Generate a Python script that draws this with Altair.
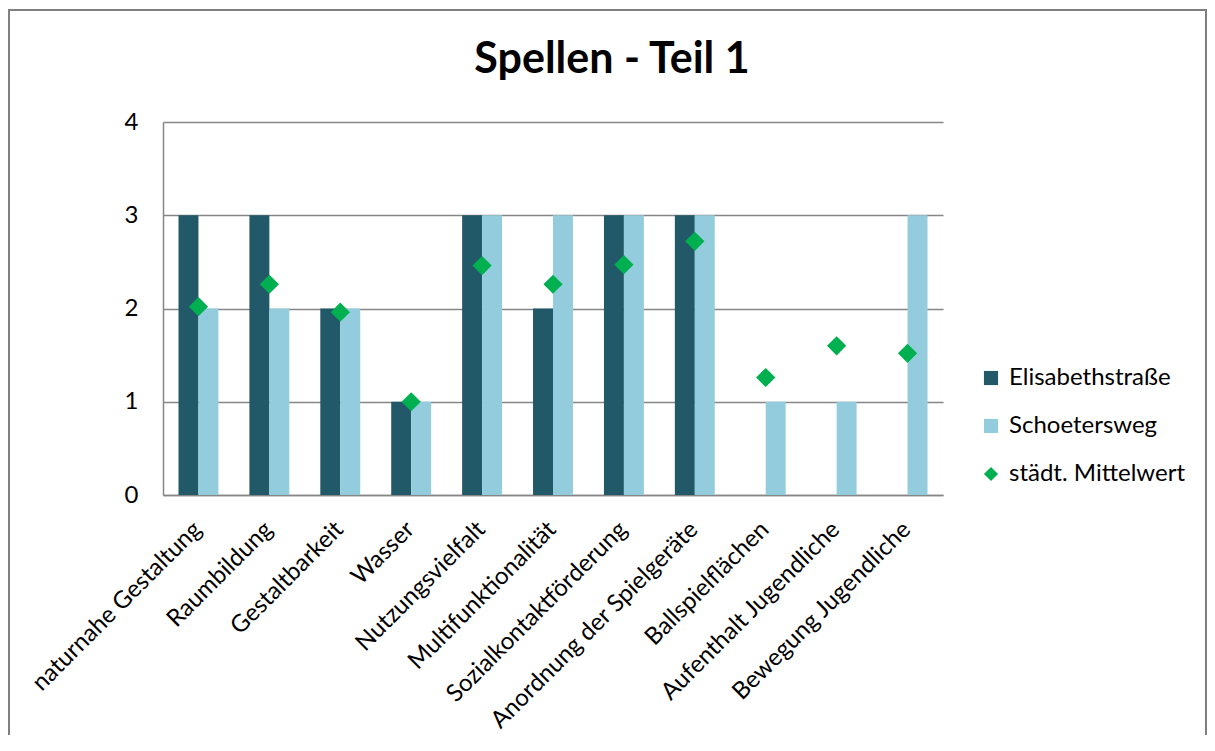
import altair as alt
import pandas as pd

categories = ["naturnahe Gestaltung", "Raumbildung", "Gestaltbarkeit", "Wasser",
              "Nutzungsvielfalt", "Multifunktionalität", "Sozialkontaktförderung",
              "Anordnung der Spielgeräte", "Ballspielflächen", "Aufenthalt Jugendliche",
              "Bewegung Jugendliche"]
elisabeth = [3, 3, 2, 1, 3, 2, 3, 3, 0, 0, 0]
schoeters = [2, 2, 2, 1, 3, 3, 3, 3, 1, 1, 3]
mittelwert = [2.02, 2.26, 1.96, 1.00, 2.46, 2.26, 2.47, 2.72, 1.26, 1.60, 1.52]

title_text = "Spellen - Teil 1"
series_names = ["Elisabethstraße", "Schoetersweg", "städt. Mittelwert"]
colors = ["#215968", "#93CDDD", "#00B050"]
shapes = ["square", "square", "diamond"]

bars = pd.DataFrame(
    [{"cat": c, "series": series_names[0], "value": v} for c, v in zip(categories, elisabeth)]
    + [{"cat": c, "series": series_names[1], "value": v} for c, v in zip(categories, schoeters)]
)
means = pd.DataFrame({"cat": categories, "series": series_names[2], "value": mittelwert})

FONT = "Lato"
FS = 24
color_scale = alt.Scale(domain=series_names, range=colors)
shape_scale = alt.Scale(domain=series_names, range=shapes)
legend = alt.Legend(title=None, orient="none", legendX=816, legendY=244,
                    labelFontSize=FS, labelFont=FONT, labelColor="#000000",
                    symbolSize=200, symbolStrokeWidth=0, symbolOpacity=1,
                    rowPadding=24, labelOffset=6, labelLimit=400)

x_enc = alt.X("cat:N", sort=categories, title=None,
              scale=alt.Scale(paddingInner=0.437, paddingOuter=0.2185),
              axis=alt.Axis(labelAngle=-45, labelFontSize=FS, labelFont=FONT,
                            labelColor="#000000", ticks=False, labelPadding=22,
                            labelOffset=-9,
                            domainColor="#868686", domainWidth=1.5, labelLimit=400))
y_enc = alt.Y("value:Q", title=None,
              scale=alt.Scale(domain=[0, 4], nice=False),
              axis=alt.Axis(values=[0, 1, 2, 3, 4], labelFontSize=FS, labelFont=FONT,
                            labelColor="#000000", ticks=False, labelPadding=25,
                            domainColor="#868686", domainWidth=1.5,
                            gridColor="#868686", gridWidth=1.5, format="d"))

bar_layer = alt.Chart(bars).mark_bar().encode(
    x=x_enc,
    xOffset=alt.XOffset("series:N", sort=series_names[:2]),
    y=y_enc,
    color=alt.Color("series:N", scale=color_scale, legend=legend),
)

point_layer = alt.Chart(means).mark_point(filled=True, size=370, opacity=1).encode(
    x=alt.X("cat:N", sort=categories),
    y=alt.Y("value:Q"),
    color=alt.Color("series:N", scale=color_scale, legend=legend),
    shape=alt.Shape("series:N", scale=shape_scale, legend=legend),
)

frame = alt.Chart(pd.DataFrame({"a": [0]})).mark_rect(
    fill=None, stroke="#7f7f7f", strokeWidth=2
).encode(x=alt.value(-154), x2=alt.value(1043), y=alt.value(-112), y2=alt.value(660))

title_layer = alt.Chart(pd.DataFrame({"t": [title_text]})).mark_text(
    font=FONT, fontSize=43, fontWeight="bold", color="#000000",
    align="center", baseline="alphabetic"
).encode(x=alt.value(449), y=alt.value(-49), text="t:N")

chart = alt.layer(frame, bar_layer, point_layer, title_layer).properties(
    width=780, height=373,
    autosize=alt.AutoSizeParams(type="none"),
    padding={"left": 155, "top": 114, "right": 264, "bottom": 240},
).configure_view(stroke=None)

chart.save("out.html", embed_options={"renderer": "svg", "actions": False})
